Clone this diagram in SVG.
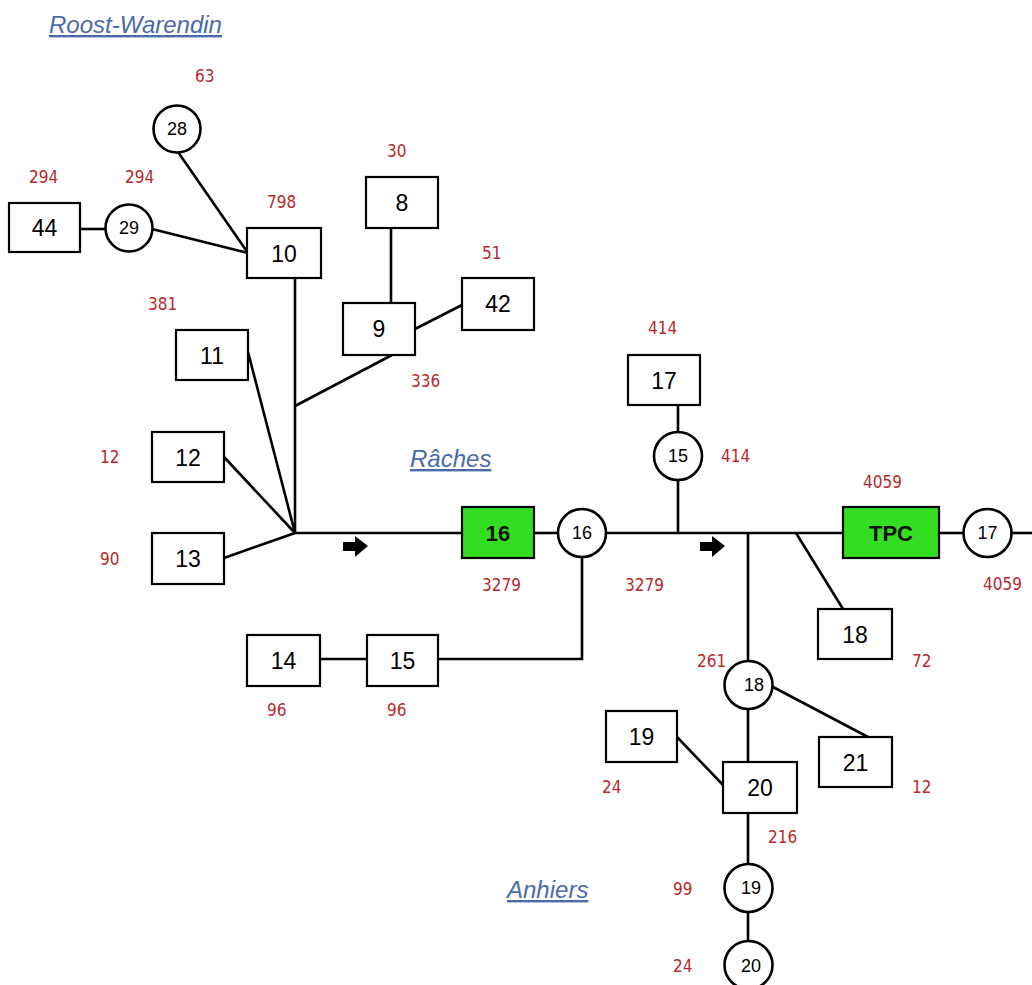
<svg xmlns="http://www.w3.org/2000/svg" width="1032" height="985" viewBox="0 0 1032 985">
<style>
.b{fill:#fff;stroke:#000;stroke-width:2.2}
.g{fill:#33dd22;stroke:#000;stroke-width:2.2}
.c{fill:#fff;stroke:#000;stroke-width:2.6}
.l{fill:none;stroke:#000;stroke-width:2.6}
.t{font-family:"Liberation Sans",Arial,sans-serif;font-size:23px;fill:#000;text-anchor:middle}
.tb{font-family:"Liberation Sans",Arial,sans-serif;font-size:22px;font-weight:bold;fill:#111;text-anchor:middle}
.tc{font-family:"Liberation Sans",Arial,sans-serif;font-size:18px;fill:#000;text-anchor:middle}
.n{font-family:"DejaVu Sans Condensed","DejaVu Sans",sans-serif;font-size:17px;fill:#b8282c}
.p{font-family:"Liberation Sans",Arial,sans-serif;font-size:24px;font-style:italic;fill:#4a6aa8;text-decoration:underline}
</style>
<rect width="1032" height="985" fill="#fff"/>
<g id="connectors">
<line class="l" x1="80" y1="229" x2="105" y2="229"/>
<line class="l" x1="152" y1="229" x2="248" y2="253"/>
<line class="l" x1="178" y1="152" x2="248" y2="253"/>
<line class="l" x1="295" y1="278" x2="295" y2="533"/>
<line class="l" x1="391" y1="228" x2="391" y2="303"/>
<line class="l" x1="415" y1="329" x2="462" y2="305"/>
<line class="l" x1="295" y1="406" x2="392" y2="355"/>
<line class="l" x1="248" y1="352" x2="295" y2="533"/>
<line class="l" x1="224" y1="457" x2="295" y2="533"/>
<line class="l" x1="224" y1="558" x2="295" y2="533"/>
<line class="l" x1="295" y1="533" x2="462" y2="533"/>
<line class="l" x1="534" y1="533" x2="558" y2="533"/>
<line class="l" x1="606" y1="533" x2="843" y2="533"/>
<line class="l" x1="939" y1="533" x2="963" y2="533"/>
<line class="l" x1="1012" y1="533" x2="1032" y2="533"/>
<line class="l" x1="678" y1="405" x2="678" y2="432"/>
<line class="l" x1="678" y1="480" x2="678" y2="533"/>
<polyline class="l" points="582,557 582,659 438,659"/>
<line class="l" x1="320" y1="659" x2="367" y2="659"/>
<line class="l" x1="748" y1="533" x2="748" y2="661"/>
<line class="l" x1="796" y1="533" x2="843" y2="609"/>
<line class="l" x1="773" y1="687" x2="868" y2="737"/>
<line class="l" x1="748" y1="709" x2="748" y2="762"/>
<line class="l" x1="677" y1="737" x2="723" y2="785"/>
<line class="l" x1="748" y1="813" x2="748" y2="864"/>
<line class="l" x1="748" y1="912" x2="748" y2="941"/>
<path d="M343,542 h12 v-6 l13,10 l-13,11 v-6 h-12 z" fill="#000"/>
<path d="M700,542 h12 v-6 l13,10 l-13,11 v-6 h-12 z" fill="#000"/>
</g>
<g id="n44"><rect class="b" x="9" y="203" width="71" height="49"/><text class="t" x="44.5" y="236">44</text></g>
<g id="c29"><circle class="c" cx="129" cy="228" r="23.5"/><text class="tc" x="129" y="234">29</text></g>
<g id="c28"><circle class="c" cx="177" cy="129" r="23.5"/><text class="tc" x="177" y="135">28</text></g>
<g id="n10"><rect class="b" x="247" y="228" width="74" height="50"/><text class="t" x="284" y="262">10</text></g>
<g id="n8"><rect class="b" x="366" y="177" width="72" height="51"/><text class="t" x="402" y="211">8</text></g>
<g id="n9"><rect class="b" x="343" y="303" width="72" height="52"/><text class="t" x="379" y="337">9</text></g>
<g id="n42"><rect class="b" x="462" y="278" width="72" height="52"/><text class="t" x="498" y="312">42</text></g>
<g id="n11"><rect class="b" x="176" y="330" width="72" height="50"/><text class="t" x="212" y="364">11</text></g>
<g id="n12"><rect class="b" x="152" y="432" width="72" height="50"/><text class="t" x="188" y="466">12</text></g>
<g id="n13"><rect class="b" x="152" y="533" width="72" height="51"/><text class="t" x="188" y="567">13</text></g>
<g id="n16g"><rect class="g" x="462" y="507" width="72" height="51"/><text class="tb" x="498" y="541">16</text></g>
<g id="c16"><circle class="c" cx="582" cy="533" r="24"/><text class="tc" x="582" y="539">16</text></g>
<g id="n17"><rect class="b" x="628" y="355" width="72" height="50"/><text class="t" x="664" y="389">17</text></g>
<g id="c15"><circle class="c" cx="678" cy="456" r="24"/><text class="tc" x="678" y="462">15</text></g>
<g id="nTPC"><rect class="g" x="843" y="507" width="96" height="51"/><text class="tb" x="891" y="541">TPC</text></g>
<g id="c17"><circle class="c" cx="987.5" cy="533" r="24"/><text class="tc" x="987.5" y="539">17</text></g>
<g id="n14"><rect class="b" x="247" y="635" width="73" height="51"/><text class="t" x="283.5" y="669">14</text></g>
<g id="n15"><rect class="b" x="367" y="635" width="71" height="51"/><text class="t" x="402.5" y="669">15</text></g>
<g id="n18"><rect class="b" x="818" y="609" width="74" height="50"/><text class="t" x="855" y="643">18</text></g>
<g id="c18"><circle class="c" cx="748.5" cy="685" r="24"/><text class="tc" x="754" y="691">18</text></g>
<g id="n19"><rect class="b" x="606" y="711" width="71" height="51"/><text class="t" x="641.5" y="745">19</text></g>
<g id="n21"><rect class="b" x="819" y="737" width="73" height="50"/><text class="t" x="855.5" y="771">21</text></g>
<g id="n20"><rect class="b" x="723" y="762" width="74" height="51"/><text class="t" x="760" y="796">20</text></g>
<g id="c19"><circle class="c" cx="748.5" cy="888" r="24"/><text class="tc" x="751" y="894">19</text></g>
<g id="c20"><circle class="c" cx="748.5" cy="965" r="24"/><text class="tc" x="751" y="972">20</text></g>
<g id="labels">
<text class="p" x="49" y="33">Roost-Warendin</text>
<text class="p" x="410" y="467">Râches</text>
<text class="p" x="507" y="898">Anhiers</text>
<text class="n" x="195" y="82">63</text>
<text class="n" x="29" y="183">294</text>
<text class="n" x="125" y="183">294</text>
<text class="n" x="267" y="208">798</text>
<text class="n" x="387" y="157">30</text>
<text class="n" x="482" y="259">51</text>
<text class="n" x="148" y="310">381</text>
<text class="n" x="411" y="387">336</text>
<text class="n" x="648" y="334">414</text>
<text class="n" x="721" y="462">414</text>
<text class="n" x="100" y="463">12</text>
<text class="n" x="100" y="565">90</text>
<text class="n" x="863" y="488">4059</text>
<text class="n" x="482" y="591">3279</text>
<text class="n" x="625" y="591">3279</text>
<text class="n" x="983" y="590">4059</text>
<text class="n" x="267" y="716">96</text>
<text class="n" x="387" y="716">96</text>
<text class="n" x="697" y="667">261</text>
<text class="n" x="912" y="667">72</text>
<text class="n" x="602" y="793">24</text>
<text class="n" x="912" y="793">12</text>
<text class="n" x="768" y="843">216</text>
<text class="n" x="673" y="895">99</text>
<text class="n" x="673" y="972">24</text>
</g>
</svg>
